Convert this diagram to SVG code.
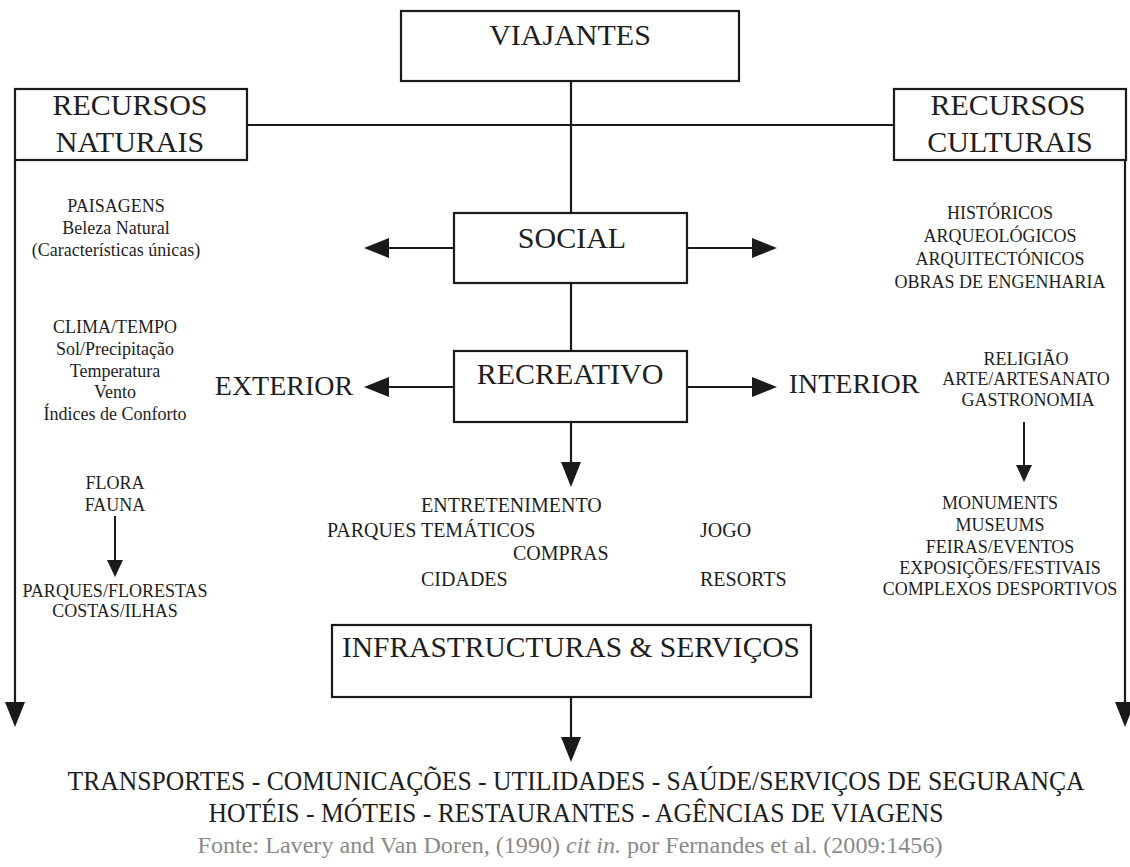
<svg xmlns="http://www.w3.org/2000/svg" width="1130" height="867" viewBox="0 0 1130 867">
  <style>
    .box { fill: #ffffff; stroke: #1a1a1a; stroke-width: 2.2; }
    .line { fill: none; stroke: #1a1a1a; stroke-width: 2.2; }
    .thin { fill: none; stroke: #1a1a1a; stroke-width: 2; }
    text { font-family: "Liberation Serif", "Times New Roman", serif; fill: #1e1e1e; text-anchor: middle; }
    .big { font-size: 30px; }
    .mid { font-size: 28px; }
    .rec { font-size: 20px; text-anchor: start; }
    .small { font-size: 18px; }
    .foot { font-size: 26.5px; }
    .src { font-size: 23px; fill: #8a8a8a; }
  </style>
  <defs>
    <marker id="head" markerUnits="userSpaceOnUse" markerWidth="27" markerHeight="22" refX="0" refY="10" orient="auto" overflow="visible">
      <path d="M0,0 L25,10 L0,20 Z" fill="#1a1a1a"/>
    </marker>
    <marker id="headSmall" markerUnits="userSpaceOnUse" markerWidth="19" markerHeight="18" refX="0" refY="8" orient="auto" overflow="visible">
      <path d="M0,0 L17,8 L0,16 Z" fill="#1a1a1a"/>
    </marker>
  </defs>

  <rect width="1130" height="867" fill="#ffffff"/>

  <!-- connectors -->
  <g id="connectors">
    <path class="line" d="M571,81 V213"/>
    <path class="line" d="M247,125 H894"/>
    <path class="line" d="M571,283 V351"/>
    <path class="line" d="M454,248 H389" marker-end="url(#head)"/>
    <path class="line" d="M687,248 H752" marker-end="url(#head)"/>
    <path class="line" d="M454,387 H389" marker-end="url(#head)"/>
    <path class="line" d="M687,387 H752" marker-end="url(#head)"/>
    <path class="line" d="M571,422 V462" marker-end="url(#head)"/>
    <path class="line" d="M15,160 V702" marker-end="url(#head)"/>
    <path class="line" d="M1125,160 V702" marker-end="url(#head)"/>
    <path class="thin" d="M115,516 V560" marker-end="url(#headSmall)"/>
    <path class="thin" d="M1024,422 V465" marker-end="url(#headSmall)"/>
    <path class="line" d="M571,697 V737" marker-end="url(#head)"/>
  </g>

  <!-- boxed nodes -->
  <g id="viajantes">
    <rect class="box" x="401" y="11" width="338" height="70"/>
    <text class="big" x="570" y="45">VIAJANTES</text>
  </g>
  <g id="recursos-naturais">
    <rect class="box" x="15" y="89" width="232" height="71"/>
    <text class="big" x="130" y="115">RECURSOS</text>
    <text class="big" x="130" y="152">NATURAIS</text>
  </g>
  <g id="recursos-culturais">
    <rect class="box" x="894" y="89" width="232" height="71"/>
    <text class="big" x="1008" y="115">RECURSOS</text>
    <text class="big" x="1010" y="152">CULTURAIS</text>
  </g>
  <g id="social">
    <rect class="box" x="454" y="213" width="233" height="70"/>
    <text class="big" x="572" y="248">SOCIAL</text>
  </g>
  <g id="recreativo">
    <rect class="box" x="454" y="351" width="233" height="71"/>
    <text class="big" x="570" y="384">RECREATIVO</text>
  </g>
  <g id="infraestruturas">
    <rect class="box" x="332" y="625" width="479" height="72"/>
    <text class="big" x="571" y="657" textLength="458" lengthAdjust="spacingAndGlyphs">INFRASTRUCTURAS &amp; SERVIÇOS</text>
  </g>

  <!-- direction labels -->
  <g id="exterior">
    <text class="mid" x="284" y="395">EXTERIOR</text>
  </g>
  <g id="interior">
    <text class="mid" x="854" y="393">INTERIOR</text>
  </g>

  <!-- natural resources -->
  <g id="paisagens">
    <text class="small" x="116" y="212">PAISAGENS</text>
    <text class="small" x="116" y="234">Beleza Natural</text>
    <text class="small" x="116" y="256">(Características únicas)</text>
  </g>
  <g id="clima">
    <text class="small" x="115" y="333">CLIMA/TEMPO</text>
    <text class="small" x="115" y="355">Sol/Precipitação</text>
    <text class="small" x="115" y="377">Temperatura</text>
    <text class="small" x="115" y="398">Vento</text>
    <text class="small" x="115" y="420">Índices de Conforto</text>
  </g>
  <g id="flora-fauna">
    <text class="small" x="115" y="489">FLORA</text>
    <text class="small" x="115" y="511">FAUNA</text>
  </g>
  <g id="parques">
    <text class="small" x="115" y="597">PARQUES/FLORESTAS</text>
    <text class="small" x="115" y="617">COSTAS/ILHAS</text>
  </g>

  <!-- cultural resources -->
  <g id="historicos">
    <text class="small" x="1000" y="219">HISTÓRICOS</text>
    <text class="small" x="1000" y="242">ARQUEOLÓGICOS</text>
    <text class="small" x="1000" y="265">ARQUITECTÓNICOS</text>
    <text class="small" x="1000" y="288">OBRAS DE ENGENHARIA</text>
  </g>
  <g id="religiao">
    <text class="small" x="1026" y="365">RELIGIÃO</text>
    <text class="small" x="1026" y="385">ARTE/ARTESANATO</text>
    <text class="small" x="1028" y="406">GASTRONOMIA</text>
  </g>
  <g id="monumentos">
    <text class="small" x="1000" y="509">MONUMENTS</text>
    <text class="small" x="1000" y="531">MUSEUMS</text>
    <text class="small" x="1000" y="553">FEIRAS/EVENTOS</text>
    <text class="small" x="1000" y="574">EXPOSIÇÕES/FESTIVAIS</text>
    <text class="small" x="1000" y="595">COMPLEXOS DESPORTIVOS</text>
  </g>

  <!-- recreational activities -->
  <g id="atividades">
    <text class="rec" x="421" y="512">ENTRETENIMENTO</text>
    <text class="rec" x="327" y="537">PARQUES TEMÁTICOS</text>
    <text class="rec" x="700" y="537">JOGO</text>
    <text class="rec" x="513" y="560">COMPRAS</text>
    <text class="rec" x="421" y="586">CIDADES</text>
    <text class="rec" x="700" y="586">RESORTS</text>
  </g>

  <!-- services -->
  <g id="servicos">
    <text class="foot" x="576" y="790" textLength="1017" lengthAdjust="spacingAndGlyphs">TRANSPORTES - COMUNICAÇÕES - UTILIDADES - SAÚDE/SERVIÇOS DE SEGURANÇA</text>
    <text class="foot" x="576" y="822" textLength="735" lengthAdjust="spacingAndGlyphs">HOTÉIS - MÓTEIS - RESTAURANTES - AGÊNCIAS DE VIAGENS</text>
  </g>

  <!-- source line -->
  <text class="src" x="570" y="853" textLength="745" lengthAdjust="spacingAndGlyphs">Fonte: Lavery and Van Doren, (1990) <tspan font-style="italic">cit in.</tspan> por Fernandes et al. (2009:1456)</text>
</svg>
